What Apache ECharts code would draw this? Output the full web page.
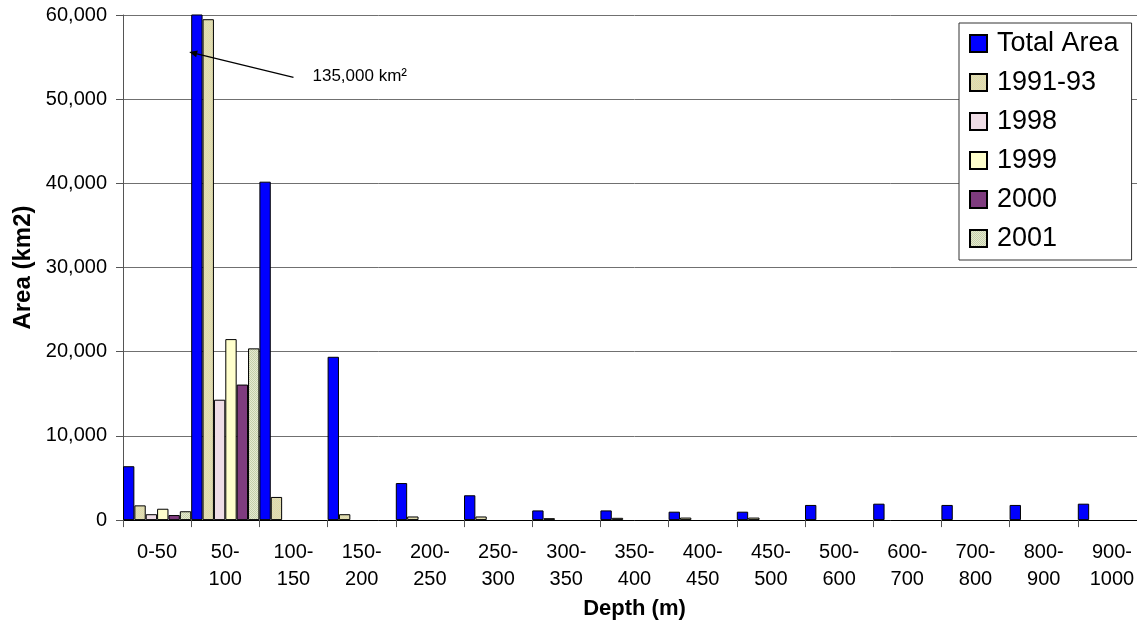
<!DOCTYPE html>
<html>
<head>
<meta charset="utf-8">
<script src="https://cdn.jsdelivr.net/npm/echarts@6/dist/echarts.min.js"></script>
<style>
  html, body { margin: 0; padding: 0; overflow: hidden; background: #ffffff; }
  #chart { width: 1146px; height: 625px; }
</style>
</head>
<body>
<div id="chart"></div>
<script>
// Depth bins (m)
const depthBins = ['0-50', '50-100', '100-150', '150-200', '200-250', '250-300', '300-350',
  '350-400', '400-450', '450-500', '500-600', '600-700', '700-800', '800-900', '900-1000'];

// Area per depth bin (km2)
const totalArea = [6400, 135000, 40200, 19400, 4400, 2950, 1150, 1150, 1000, 1000, 1800, 1950, 1800, 1800, 1950];
const area1991_93 = [1750, 59500, 2750, 700, 430, 430, 230, 270, 300, 300];
const area1998 = [700, 14300];
const area1999 = [1350, 21500];
const area2000 = [600, 16100];
const area2001 = [1050, 20400];

const yTicks = { min: 0, max: 60000, step: 10000 };

const FONT = '"Liberation Sans", Arial, sans-serif';

// small dithered fills used by the survey-year bars
function dither(c1, c2) {
  const cv = document.createElement('canvas');
  cv.width = 2; cv.height = 2;
  const ctx = cv.getContext('2d');
  ctx.fillStyle = c1; ctx.fillRect(0, 0, 2, 2);
  ctx.fillStyle = c2; ctx.fillRect(0, 0, 1, 1); ctx.fillRect(1, 1, 1, 1);
  return { image: cv, repeat: 'repeat' };
}

function barSeries(name, data, color) {
  return {
    name: name,
    type: 'bar',
    data: data,
    barGap: '0%',
    barCategoryGap: '0%',
    itemStyle: { color: color, borderColor: '#000000', borderWidth: 1 },
    emphasis: { disabled: true }
  };
}

const chart = echarts.init(document.getElementById('chart'));

const option = {
  animation: false,
  textStyle: { fontFamily: FONT, color: '#000000' },
  grid: { left: 123, right: 0, top: 15, bottom: 99, containLabel: false },
  legend: {
    orient: 'vertical',
    left: 959,
    top: 23,
    padding: [7, 13, 8, 10],
    itemGap: 12,
    itemWidth: 17,
    itemHeight: 17,
    icon: 'rect',
    borderColor: '#333333',
    borderWidth: 1,
    backgroundColor: '#ffffff',
    textStyle: { fontSize: 27, fontFamily: FONT, color: '#000000', padding: [0, 0, 0, 5] }
  },
  xAxis: {
    type: 'category',
    data: depthBins,
    name: 'Depth (m)',
    nameLocation: 'middle',
    nameGap: 72,
    nameTextStyle: { fontSize: 22, fontWeight: 'bold', fontFamily: FONT, color: '#000000' },
    axisLine: { lineStyle: { color: '#000000', width: 1 } },
    axisTick: { show: true, length: 7, lineStyle: { color: '#555555' } },
    axisLabel: {
      interval: 0,
      fontSize: 20,
      lineHeight: 27,
      margin: 19,
      color: '#000000',
      fontFamily: FONT,
      formatter: v => (v.length > 4 ? v.replace('-', '-\n') : v)
    },
    splitLine: { show: false }
  },
  yAxis: {
    type: 'value',
    min: yTicks.min,
    max: yTicks.max,
    interval: yTicks.step,
    name: 'Area (km2)',
    nameLocation: 'middle',
    nameRotate: 90,
    nameGap: 85,
    nameTextStyle: { fontSize: 24, fontWeight: 'bold', fontFamily: FONT, color: '#000000' },
    axisLine: { show: true, lineStyle: { color: '#555555', width: 1 } },
    axisTick: { show: true, length: 7, lineStyle: { color: '#555555' } },
    axisLabel: {
      fontSize: 20,
      margin: 16,
      color: '#000000',
      fontFamily: FONT,
      formatter: v => v.toLocaleString('en-US')
    },
    splitLine: { show: true, lineStyle: { color: '#707070', width: 1 } }
  },
  series: [
    barSeries('Total Area', totalArea, '#0000ff'),
    barSeries('1991-93', area1991_93, dither('#d2e4be', '#ecd2a0')),
    barSeries('1998', area1998, '#efdde6'),
    barSeries('1999', area1999, '#ffffcc'),
    barSeries('2000', area2000, '#7f3c7f'),
    barSeries('2001', area2001, dither('#e6e8d2', '#c4d0a8'))
  ]
};

chart.setOption(option);

// Call-out for the off-scale 50-100 m bar
const gridFinder = { gridIndex: 0 };
const tipPt = chart.convertToPixel(gridFinder, [1, 55600]);
const tailPt = chart.convertToPixel(gridFinder, [2, 52600]);
const band = tailPt[0] - tipPt[0];
const tip = [tipPt[0] - band / 2 - 2, tipPt[1]];
const tail = tailPt;
const dx = tip[0] - tail[0], dy = tip[1] - tail[1];
const len = Math.sqrt(dx * dx + dy * dy);
const ux = dx / len, uy = dy / len;
const headLen = 8, headW = 3.5;
const base = [tip[0] - ux * headLen, tip[1] - uy * headLen];

chart.setOption({
  graphic: [
    {
      type: 'line',
      z: 100,
      shape: { x1: tail[0], y1: tail[1], x2: base[0], y2: base[1] },
      style: { stroke: '#000000', lineWidth: 1.2 }
    },
    {
      type: 'polygon',
      z: 100,
      shape: { points: [tip, [base[0] - uy * headW, base[1] + ux * headW], [base[0] + uy * headW, base[1] - ux * headW]] },
      style: { fill: '#000000' }
    },
    {
      type: 'text',
      z: 100,
      x: tail[0] + 19,
      y: tail[1] - 1,
      style: {
        text: totalArea[1].toLocaleString('en-US') + ' km²',
        fontSize: 17,
        fontFamily: FONT,
        fill: '#000000',
        verticalAlign: 'middle',
        align: 'left'
      }
    }
  ]
});
</script>
</body>
</html>
